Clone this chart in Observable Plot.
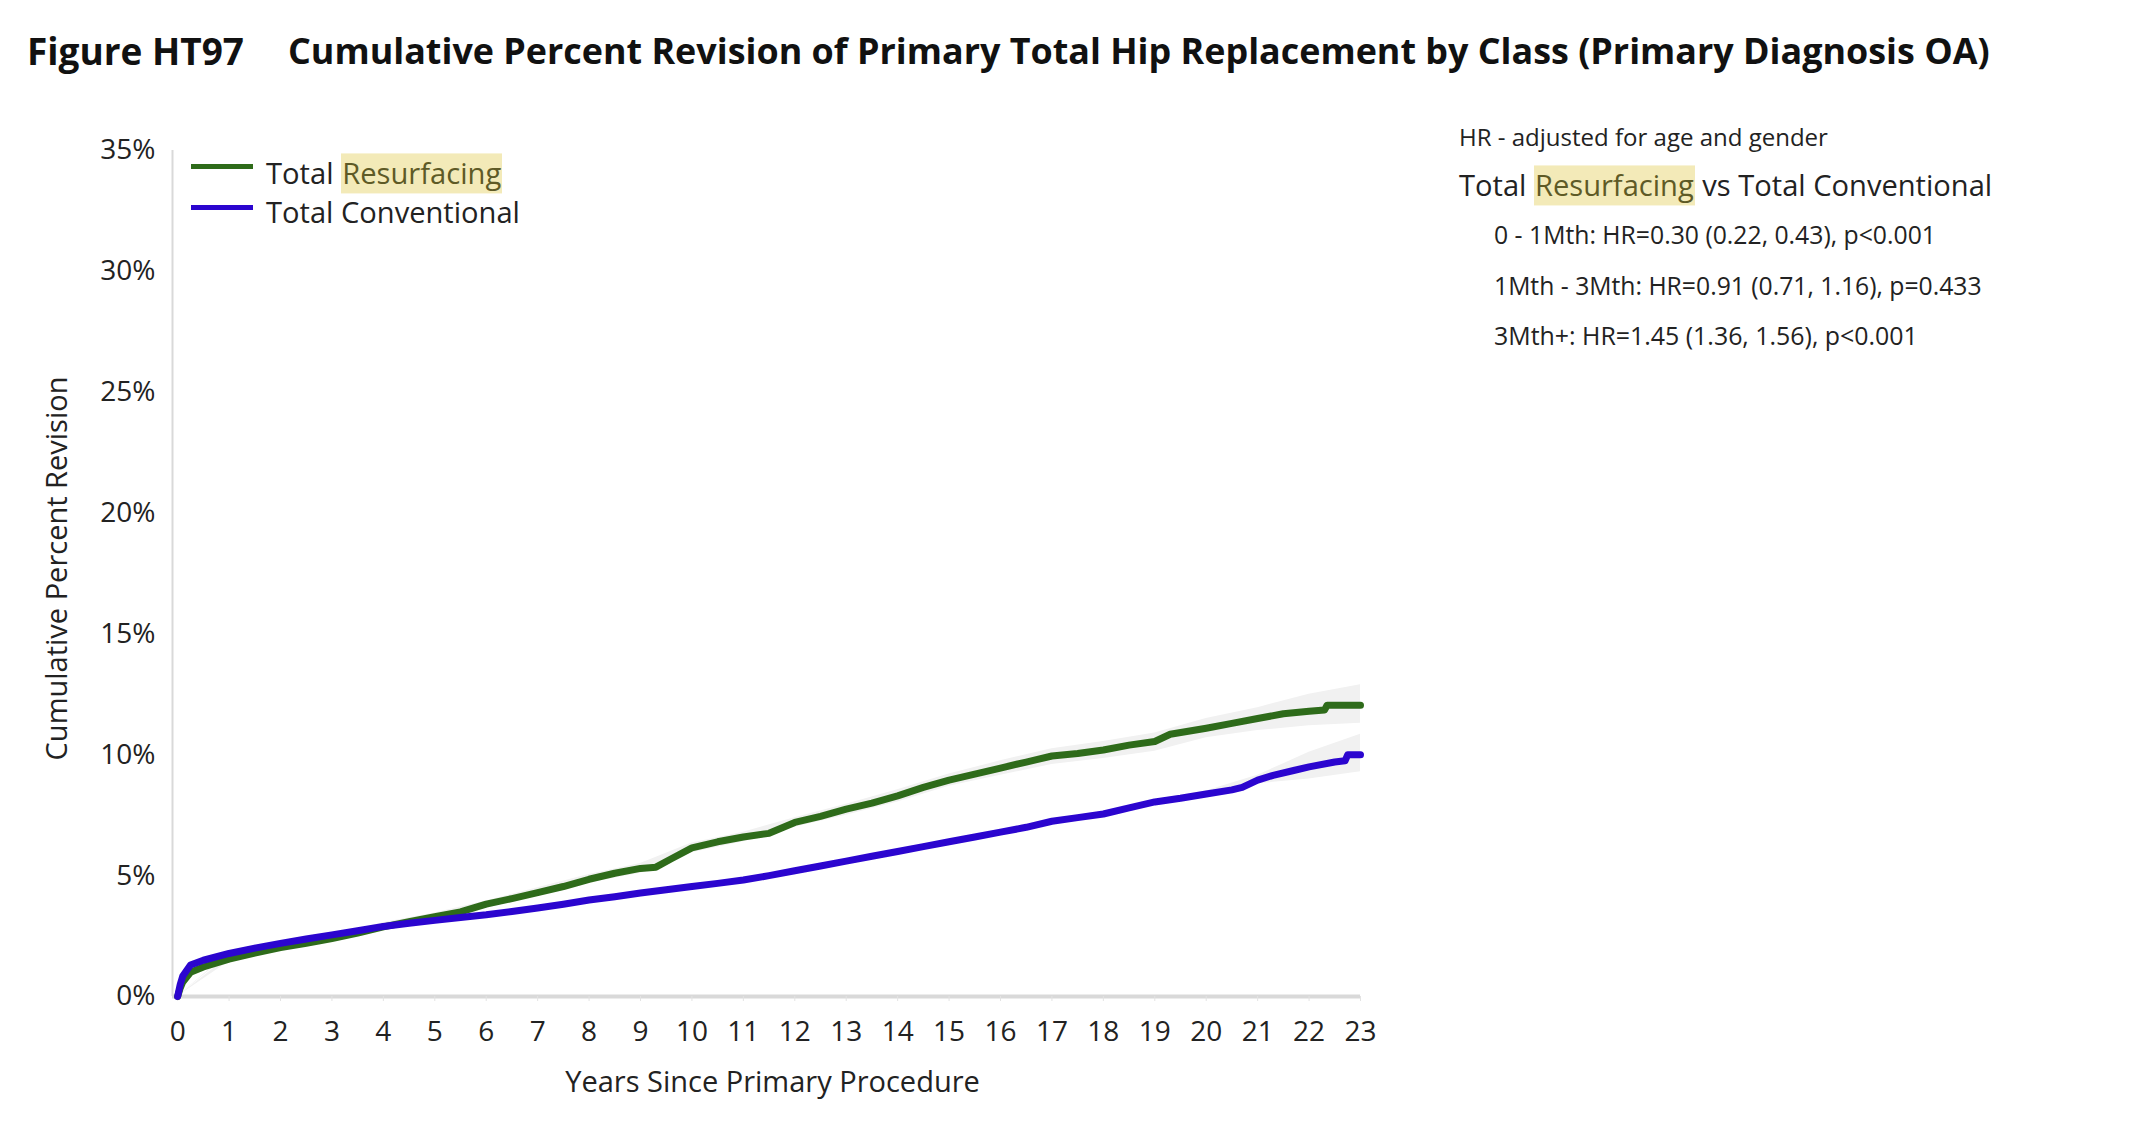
<!DOCTYPE html>
<html><head><meta charset="utf-8">
<script src="https://cdn.jsdelivr.net/npm/d3@7"></script>
<script src="https://cdn.jsdelivr.net/npm/@observablehq/plot@0.6"></script>
<style>
html,body{margin:0;padding:0;background:#fff;}
body{width:2133px;height:1137px;position:relative;overflow:hidden;font-family:"Open Sans",sans-serif;color:#222;}
#title{height:100px;position:relative;}
.ov{position:absolute;white-space:nowrap;line-height:1;transform:translateY(-50%);}
.tt{font-weight:700;color:#111;}
.hl{background:#f3eab8;color:#5e5a26;padding:0 1px;}
.sw{position:absolute;height:5px;width:62px;}
</style></head>
<body>
<div id="title">
  <span class="ov tt" data-w="217" style="left:27px;top:51px;">Figure HT97</span>
  <span class="ov tt" data-w="1702" style="left:288px;top:51px;">Cumulative Percent Revision of Primary Total Hip Replacement by Class (Primary Diagnosis OA)</span>
</div>
<div id="chart"></div>
<div class="sw" style="left:191px;top:164px;background:#2e6b1a;"></div>
<div class="sw" style="left:191px;top:205px;background:#2b05cf;"></div>
<span class="ov" data-w="235" style="left:266px;top:174px;">Total <span class="hl">Resurfacing</span></span>
<span class="ov" data-w="254" style="left:266px;top:213px;">Total Conventional</span>
<span class="ov" data-w="369" style="left:1459px;top:137px;">HR - adjusted for age and gender</span>
<span class="ov" data-w="532" style="left:1459px;top:186px;">Total <span class="hl">Resurfacing</span> vs Total Conventional</span>
<span class="ov" data-w="442" style="left:1494px;top:235px;">0 - 1Mth: HR=0.30 (0.22, 0.43), p&lt;0.001</span>
<span class="ov" data-w="488" style="left:1494px;top:286px;">1Mth - 3Mth: HR=0.91 (0.71, 1.16), p=0.433</span>
<span class="ov" data-w="424" style="left:1494px;top:335px;">3Mth+: HR=1.45 (1.36, 1.56), p&lt;0.001</span>
<script>
// ---- data ----
const resurfYears  = [0,0.05,0.1,0.25,0.5,1,1.5,2,2.5,3,3.5,4,4.5,5,5.5,6,6.5,7,7.5,8,8.5,9,9.3,9.6,10,10.5,11,11.5,12,12.5,13,13.5,14,14.5,15,15.5,16,16.5,17,17.5,18,18.5,19,19.3,20,20.5,21,21.5,22,22.3,22.35,23];
const resurfValues = [0,0.35,0.6,1.0,1.22,1.55,1.8,2.02,2.2,2.4,2.62,2.88,3.1,3.3,3.5,3.82,4.05,4.3,4.55,4.85,5.1,5.3,5.35,5.7,6.15,6.4,6.6,6.75,7.2,7.45,7.75,8.0,8.3,8.65,8.95,9.2,9.45,9.7,9.95,10.05,10.2,10.4,10.55,10.85,11.1,11.3,11.5,11.7,11.8,11.85,12.05,12.05];
const convYears  = [0,0.05,0.1,0.25,0.5,1,1.5,2,2.5,3,3.5,4,4.5,5,5.5,6,6.5,7,7.5,8,8.5,9,9.5,10,10.5,11,11.5,12,12.5,13,13.5,14,14.5,15,15.5,16,16.5,17,17.5,18,18.5,19,19.5,20,20.5,20.7,21,21.3,21.7,22,22.5,22.7,22.75,23];
const convValues = [0,0.5,0.85,1.3,1.5,1.78,2.0,2.2,2.38,2.55,2.72,2.9,3.03,3.15,3.27,3.38,3.52,3.66,3.82,3.99,4.13,4.28,4.42,4.55,4.68,4.82,5.0,5.2,5.4,5.6,5.8,6.0,6.2,6.4,6.6,6.8,7.0,7.25,7.4,7.55,7.8,8.05,8.2,8.38,8.55,8.65,8.95,9.15,9.35,9.5,9.7,9.75,10.0,10.0];
const bandYears = [0,1,2,3,4,5,6,7,8,9,10,11,12,13,14,15,16,17,18,19,20,21,22,23];
const resurfLo = [0,1.45,1.9,2.28,2.75,3.15,3.65,4.15,4.7,5.1,5.95,6.4,7.0,7.5,8.05,8.7,9.15,9.6,9.85,10.15,10.7,11.0,11.2,11.3];
const resurfHi = [0,1.65,2.15,2.52,3.05,3.45,3.95,4.5,5.05,5.5,6.35,6.8,7.4,7.95,8.55,9.2,9.75,10.25,10.55,10.9,11.5,11.95,12.5,12.9];
const convLo = [0,1.74,2.16,2.5,2.86,3.1,3.33,3.6,3.93,4.22,4.48,4.73,5.1,5.5,5.9,6.3,6.7,7.15,7.45,7.95,8.25,8.8,9.0,9.3];
const convHi = [0,1.82,2.24,2.6,2.94,3.2,3.43,3.72,4.05,4.34,4.62,4.9,5.3,5.7,6.1,6.5,6.9,7.35,7.65,8.15,8.5,9.15,10.1,10.85];
const xTicks = [0,1,2,3,4,5,6,7,8,9,10,11,12,13,14,15,16,17,18,19,20,21,22,23];
const yTicks = [0,5,10,15,20,25,30,35];
const xTitle = "Years Since Primary Procedure";
const yTitle = "Cumulative Percent Revision";

const resurf = resurfYears.map((x,i)=>({x, y:resurfValues[i]}));
const conv = convYears.map((x,i)=>({x, y:convValues[i]}));
const bandR = bandYears.map((x,i)=>({x, lo:resurfLo[i], hi:resurfHi[i]}));
const bandC = bandYears.map((x,i)=>({x, lo:convLo[i], hi:convHi[i]}));

const chart = Plot.plot({
  width: 2133, height: 1037,
  marginLeft: 172, marginRight: 773, marginTop: 50, marginBottom: 141,
  style: {fontFamily: "'Open Sans', sans-serif", fontSize: "28px", color: "#222", background: "#fff"},
  x: {domain: [-0.1, 23]},
  y: {domain: [0, 35]},
  marks: [
    Plot.areaY(bandR, {x: "x", y1: "lo", y2: "hi", fill: "#f1f1f1"}),
    Plot.areaY(bandC, {x: "x", y1: "lo", y2: "hi", fill: "#f1f1f1"}),
    Plot.ruleY([0], {stroke: "#d9d9d9", strokeWidth: 4}),
    Plot.ruleX([-0.1], {y1: 0, y2: 35, stroke: "#d9d9d9", strokeWidth: 2}),
    Plot.axisY({ticks: yTicks, tickFormat: d => d + "%", tickSize: 0, tickPadding: 17, label: null, fontSize: 28}),
    Plot.axisX({ticks: xTicks, tickFormat: d => String(d), tickSize: 5, tickPadding: 20, stroke: "#e3e3e3", fill: "#222", label: null, fontSize: 28}),
    Plot.line(resurf, {x: "x", y: "y", stroke: "#2e6b1a", strokeWidth: 7}),
    Plot.line(conv, {x: "x", y: "y", stroke: "#2b05cf", strokeWidth: 7}),
    Plot.text([xTitle], {text: d => d, frameAnchor: "bottom", dx: 6, dy: 95, fontSize: 29, fill: "#222"}),
    Plot.text([yTitle], {text: d => d, frameAnchor: "left", textAnchor: "middle", rotate: -90, dx: -115, dy: -5, fontSize: 29, fill: "#222"})
  ]
});
document.getElementById("chart").appendChild(chart);

// fit overlay text widths
document.querySelectorAll(".ov[data-w]").forEach(el => {
  el.style.fontSize = "100px";
  const w = el.getBoundingClientRect().width;
  el.style.fontSize = (100 * (+el.dataset.w) / w) + "px";
});
</script>
</body></html>
